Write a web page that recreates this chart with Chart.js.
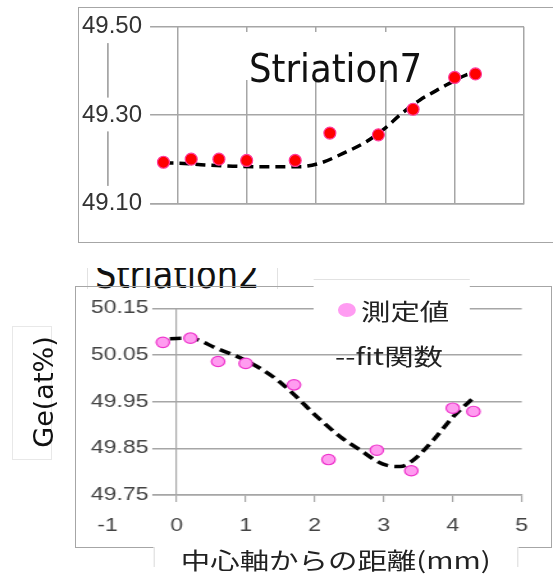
<!DOCTYPE html>
<html>
<head>
<meta charset="utf-8">
<script src="https://cdn.jsdelivr.net/npm/chart.js@4.4.1/dist/chart.umd.min.js"></script>
<style>
  html, body { margin: 0; padding: 0; background: #fff; }
  #page { position: relative; width: 553px; height: 577px; overflow: hidden; background: #fff; }
  #page canvas { position: absolute; }
  .box { position: absolute; box-sizing: border-box; }
  .t { position: absolute; white-space: nowrap; line-height: 1; transform-origin: 0 0; color: #111; }
  .dv { font-family: 'DejaVu Sans', sans-serif; }
  .jp { font-family: 'Noto Sans CJK JP', sans-serif; color: #222; }
  /* the lower chart is stretched sideways in the reference */
  #bw { position: absolute; left: 0; top: 0; width: 432px; height: 577px; transform: scaleX(1.28); transform-origin: 0 0; z-index: 2; }
</style>
</head>
<body>
<div id="page">
  <!-- frames -->
  <div class="box" style="left:78px;top:7px;width:490px;height:236px;border:1.5px solid #a6a6a6;z-index:1"></div>
  <div class="box" style="left:75px;top:286px;width:477px;height:262px;border:1.5px solid #a6a6a6;z-index:1"></div>

  <canvas id="c7" width="553" height="250" style="left:0;top:0;z-index:2"></canvas>

  <div class="box" style="left:245px;top:32px;width:198px;height:48px;background:#fff;z-index:3">
    <span class="t dv" style="left:3.5px;top:16.7px;font-size:39px;transform:scaleX(0.91)">Striation7</span>
  </div>

  <div class="box" style="left:86.7px;top:268px;width:191.3px;height:21px;background:#fff;overflow:hidden;border-left:1px solid #e2e2e2;border-right:1px solid #e2e2e2;z-index:0">
    <span class="t dv" style="left:7.8px;top:-12.7px;font-size:39px;transform:scaleX(0.864)">Striation2</span>
  </div>

  <div class="box" style="left:11.7px;top:325.7px;width:40px;height:134.3px;background:#fff;border:1px solid #e8e8e8;z-index:3"></div>
  <div class="t dv" style="left:43.3px;top:391.5px;font-size:27px;transform:translate(-50%,-50%) rotate(-90deg);transform-origin:50% 50%;z-index:4">Ge(at%)</div>

  <div id="bw">
    <canvas id="c2" width="432" height="260" style="left:0;top:280px"></canvas>
    <div class="box" style="left:244.8px;top:279px;width:121.8px;height:46px;background:#fff;border-top:1px solid #e2e2e2"></div>
    <div class="box" style="left:263.6px;top:302.7px;width:14.6px;height:14.6px;border-radius:50%;background:#ff9cf2"></div>
    <span class="t jp" style="left:282px;top:298.5px;font-size:23px">測定値</span>
    <span class="t jp" style="left:261.7px;top:343.5px;font-size:23px">--fit関数</span>
    <div class="box" style="left:119.8px;top:546.7px;width:285px;height:20px;background:#fff;border-left:1px solid #e2e2e2;border-right:1px solid #e2e2e2"></div>
    <span class="t jp" style="left:119.8px;top:547.5px;width:285px;text-align:center;font-size:23px">中心軸からの距離(mm)</span>
  </div>
</div>

<script>
// distance from the centre axis (mm), same for both striations
const X_MM = [-0.2, 0.2, 0.6, 1.0, 1.7, 2.2, 2.9, 3.4, 4.0, 4.3];
const X_TICKS = [-1, 0, 1, 2, 3, 4, 5];

// Striation7 (upper chart)
const GE_S7 = [49.193, 49.200, 49.200, 49.197, 49.197, 49.259, 49.255, 49.313, 49.385, 49.393];
const FIT_S7_X = [-0.2, 0.0, 0.4, 0.8, 1.2, 1.77, 2.06, 2.39, 2.73, 3.02, 3.21, 3.5, 3.79, 4.17, 4.22];
const FIT_S7_Y = [49.191, 49.191, 49.187, 49.184, 49.183, 49.183, 49.191, 49.213, 49.240, 49.273, 49.300, 49.334, 49.360, 49.391, 49.393];
const Y_TICKS_S7 = [49.10, 49.30, 49.50];

// Striation2 (lower chart)
const GE_S2 = [50.077, 50.086, 50.036, 50.032, 49.986, 49.826, 49.846, 49.802, 49.936, 49.929];
const FIT_S2_X = [-0.1, 0.19, 0.58, 0.99, 1.40, 1.71, 1.98, 2.37, 2.66, 2.99, 3.24, 3.43, 3.72, 4.01, 4.32];
const FIT_S2_Y = [50.085, 50.086, 50.064, 50.039, 50.003, 49.964, 49.925, 49.875, 49.846, 49.816, 49.811, 49.825, 49.868, 49.918, 49.961];
const Y_TICKS_S2 = [49.75, 49.85, 49.95, 50.05, 50.15];

const GRID = '#a6a6a6';

Chart.defaults.font.family = "'Liberation Sans', Arial, sans-serif";

function toPoints(xs, ys) {
    return xs.map((x, i) => ({ x: x, y: ys[i] }));
}

function fixedTicks(values) {
    return scale => { scale.ticks = values.map(v => ({ value: v })); };
}

// upper chart: Striation7
new Chart(document.getElementById('c7'), {
    type: 'scatter',
    data: {
        datasets: [
            {
                label: '測定値',
                data: toPoints(X_MM, GE_S7),
                backgroundColor: '#ff0000',
                borderColor: '#ff3d9e',
                borderWidth: 1.2,
                pointRadius: 6,
                showLine: false
            },
            {
                label: 'fit関数',
                data: toPoints(FIT_S7_X, FIT_S7_Y),
                showLine: true,
                borderColor: '#000',
                borderWidth: 3.5,
                borderDash: [10, 6],
                pointRadius: 0,
                cubicInterpolationMode: 'monotone',
                fill: false
            }
        ]
    },
    options: {
        responsive: false,
        animation: false,
        devicePixelRatio: 1,
        layout: { padding: { left: 108, right: 29, top: 26.7, bottom: 46.7 } },
        plugins: { legend: { display: false }, tooltip: { enabled: false } },
        scales: {
            x: {
                type: 'linear',
                min: -1,
                max: 5,
                afterBuildTicks: fixedTicks(X_TICKS),
                afterFit: s => { s.height = 0; },
                ticks: { display: false },
                grid: { color: GRID, lineWidth: 1.5, drawTicks: false },
                border: { color: GRID, width: 1.5 }
            },
            y: {
                type: 'linear',
                min: 49.1,
                max: 49.5,
                afterBuildTicks: fixedTicks(Y_TICKS_S7),
                afterFit: s => { s.width = 0; },
                ticks: {
                    mirror: true,
                    padding: -26,
                    color: '#333',
                    font: { size: 24 },
                    callback: v => v.toFixed(2),
                    showLabelBackdrop: true,
                    backdropColor: '#fff',
                    backdropPadding: { top: 3, bottom: 2, left: 2, right: 8 }
                },
                grid: { color: GRID, lineWidth: 1.5, drawTicks: false },
                border: { color: GRID, width: 1.5 }
            }
        }
    }
});

// lower chart: Striation2
new Chart(document.getElementById('c2'), {
    type: 'scatter',
    data: {
        datasets: [
            {
                label: '測定値',
                data: toPoints(X_MM, GE_S2),
                backgroundColor: '#ff9cf0',
                borderColor: '#ee33cc',
                borderWidth: 1.2,
                pointRadius: 5.2,
                showLine: false
            },
            {
                label: 'fit関数',
                data: toPoints(FIT_S2_X, FIT_S2_Y),
                showLine: true,
                borderColor: '#000',
                borderWidth: 3.5,
                borderDash: [9, 5],
                pointRadius: 0,
                cubicInterpolationMode: 'monotone',
                fill: false
            }
        ]
    },
    options: {
        responsive: false,
        animation: false,
        devicePixelRatio: 1,
        layout: { padding: { left: 84.1, right: 24.4, top: 28.3, bottom: 0 } },
        plugins: { legend: { display: false }, tooltip: { enabled: false } },
        scales: {
            x: {
                type: 'linear',
                min: -1,
                max: 5,
                afterBuildTicks: fixedTicks(X_TICKS),
                afterFit: s => { s.height = 45; },
                ticks: {
                    color: '#444',
                    font: { size: 18 },
                    padding: 13,
                    callback: v => String(v)
                },
                grid: {
                    lineWidth: 1.2,
                    tickLength: 7,
                    color: ctx => (ctx.tick && ctx.tick.value === 0) ? GRID : 'transparent',
                    tickColor: ctx => (ctx.tick && ctx.tick.value === -1) ? 'transparent' : GRID
                },
                border: { color: GRID, width: 1.5 }
            },
            y: {
                type: 'linear',
                min: 49.75,
                max: 50.15,
                afterBuildTicks: fixedTicks(Y_TICKS_S2),
                afterFit: s => { s.width = 0; },
                ticks: {
                    mirror: true,
                    padding: -13.2,
                    color: '#444',
                    font: { size: 18 },
                    callback: v => v.toFixed(2),
                    showLabelBackdrop: true,
                    backdropColor: '#fff',
                    backdropPadding: { top: 2, bottom: 2, left: 2, right: 3 }
                },
                grid: { color: GRID, lineWidth: 1.5, drawTicks: false },
                border: { display: false }
            }
        }
    }
});
</script>
</body>
</html>
